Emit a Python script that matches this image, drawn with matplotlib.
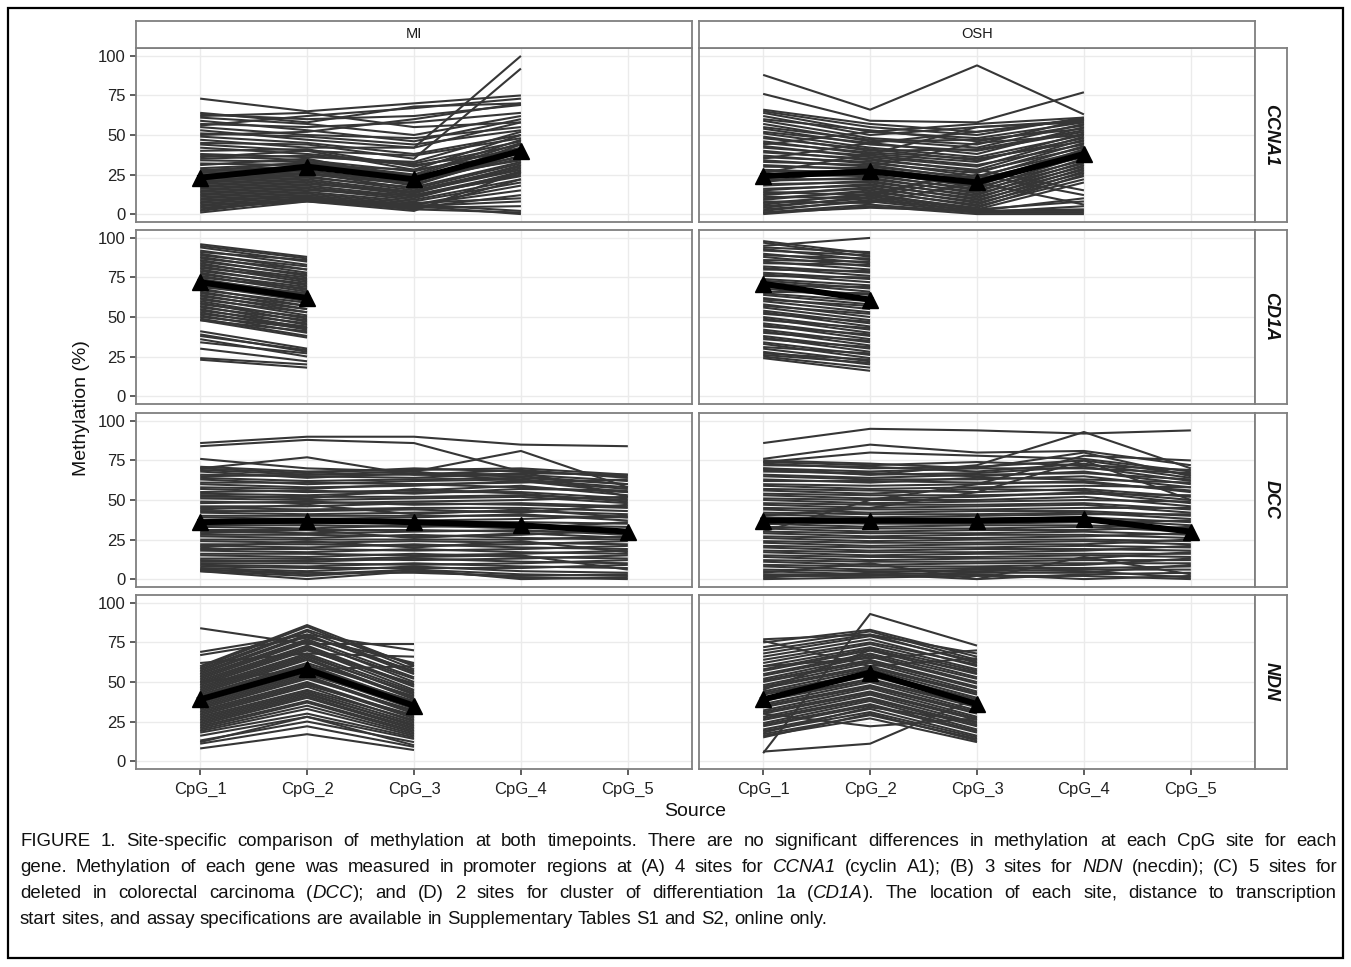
import matplotlib
matplotlib.use("Agg")
import matplotlib.pyplot as plt
from matplotlib import font_manager as fm
from matplotlib.patches import Rectangle

# ---------------- data ----------------
sources = ["MI", "OSH"]
genes = ["CCNA1", "CD1A", "DCC", "NDN"]
sites = ["CpG_1", "CpG_2", "CpG_3", "CpG_4", "CpG_5"]
y_ticks = [0, 25, 50, 75, 100]

ccna1_mi = [
    [73, 65, 70, 75], [64, 58, 68, 70], [63, 60, 62, 69], [61, 57, 50, 62],
    [59, 53, 46, 60], [57, 55, 58, 64], [55, 50, 48, 55], [53, 47, 42, 58],
    [51, 49, 44, 53], [49, 45, 38, 50], [47, 42, 42, 100], [45, 44, 35, 92],
    [44, 40, 37, 48], [42, 38, 32, 46], [40, 41, 30, 44], [38, 36, 33, 52],
    [37, 34, 27, 42], [35, 37, 31, 40], [34, 33, 25, 47], [32, 31, 28, 38],
    [31, 35, 22, 41], [29, 32, 24, 36], [28, 30, 20, 44], [27, 29, 23, 34],
    [26, 28, 18, 39], [25, 27, 21, 35], [24, 26, 16, 32], [23, 25, 19, 37],
    [22, 24, 15, 30], [21, 23, 17, 33], [20, 22, 14, 28], [19, 21, 13, 31],
    [18, 20, 12, 26], [17, 19, 14, 29], [16, 18, 11, 25], [15, 17, 10, 27],
    [14, 16, 9, 22], [13, 15, 12, 24], [12, 14, 8, 20], [11, 13, 7, 10],
    [10, 12, 6, 18], [9, 11, 5, 8], [8, 11, 4, 5], [7, 10, 6, 2],
    [6, 9, 5, 0], [5, 9, 3, 1], [4, 8, 4, 12], [3, 9, 6, 15],
    [2, 10, 3, 22], [1, 8, 2, 27], [20, 26, 20, 40], [27, 33, 24, 45],
    [36, 40, 28, 50], [50, 52, 60, 70], [56, 62, 67, 73], [62, 64, 55, 58],
]
ccna1_osh = [
    [88, 66, 94, 63], [76, 59, 58, 77], [66, 57, 52, 60], [65, 55, 50, 61],
    [64, 52, 48, 58], [62, 50, 55, 59], [60, 53, 46, 56], [59, 48, 44, 60],
    [57, 46, 47, 54], [55, 47, 42, 57], [54, 44, 40, 52], [52, 45, 38, 55],
    [51, 42, 36, 50], [49, 40, 41, 53], [48, 41, 34, 48], [46, 38, 33, 51],
    [45, 39, 35, 46], [43, 36, 30, 49], [42, 37, 31, 44], [40, 34, 28, 47],
    [39, 35, 27, 42], [37, 32, 26, 45], [36, 33, 24, 40], [34, 30, 23, 43],
    [33, 31, 22, 38], [31, 28, 20, 41], [30, 29, 21, 36], [28, 26, 18, 39],
    [27, 27, 17, 34], [25, 24, 16, 37], [24, 25, 15, 32], [22, 22, 14, 35],
    [21, 23, 13, 30], [19, 20, 12, 33], [18, 21, 11, 28], [16, 18, 10, 31],
    [15, 19, 9, 26], [13, 16, 8, 29], [12, 17, 7, 24], [10, 14, 6, 27],
    [9, 15, 5, 22], [7, 12, 4, 25], [6, 13, 3, 20], [5, 10, 2, 10],
    [4, 11, 3, 8], [3, 8, 1, 5], [2, 9, 2, 3], [1, 6, 1, 1],
    [0, 5, 0, 0], [1, 4, 2, 2], [8, 7, 20, 6], [11, 10, 25, 12],
    [14, 12, 28, 15], [20, 30, 45, 50], [26, 38, 55, 58], [35, 45, 52, 60],
    [44, 52, 57, 61],
]
cd1a_mi = [
    [96, 88], [95, 87], [94, 85], [92, 83], [91, 86], [90, 80], [89, 82],
    [88, 78], [87, 80], [86, 76], [85, 77], [84, 73], [83, 75], [82, 72],
    [81, 74], [80, 70], [79, 71], [78, 67], [77, 69], [76, 66], [75, 68],
    [74, 64], [73, 65], [72, 61], [71, 63], [70, 60], [69, 62], [68, 57],
    [67, 59], [66, 55], [65, 57], [64, 53], [63, 55], [62, 51], [61, 53],
    [60, 49], [59, 47], [58, 50], [57, 45], [56, 48], [55, 43], [54, 46],
    [53, 42], [52, 44], [51, 40], [50, 43], [49, 38], [48, 41], [48, 37],
    [41, 30], [39, 28], [38, 29], [36, 25], [34, 27], [30, 22], [24, 20],
    [23, 18],
]
cd1a_osh = [
    [98, 90], [97, 88], [95, 100], [94, 91], [93, 86], [92, 89], [90, 84],
    [89, 87], [88, 82], [86, 85], [85, 80], [84, 83], [82, 78], [81, 76],
    [80, 79], [78, 74], [77, 72], [76, 75], [74, 70], [73, 68], [72, 66],
    [70, 69], [69, 64], [68, 62], [66, 65], [65, 60], [64, 58], [62, 55],
    [61, 57], [60, 53], [58, 50], [57, 52], [56, 48], [54, 46], [53, 44],
    [52, 47], [50, 42], [49, 40], [48, 43], [46, 38], [45, 36], [44, 39],
    [42, 34], [41, 32], [40, 35], [38, 30], [37, 28], [36, 31], [34, 26],
    [33, 24], [31, 27], [30, 22], [28, 20], [27, 23], [25, 18], [24, 16],
    [26, 21],
]
dcc_mi = [
    [86, 90, 90, 85, 84], [84, 88, 86, 68, 52], [65, 66, 68, 81, 58],
    [70, 77, 66, 65, 60], [76, 70, 68, 62, 55], [71, 68, 69, 70, 66],
    [70, 67, 70, 68, 65], [69, 66, 66, 69, 64], [68, 64, 67, 66, 62],
    [66, 65, 64, 67, 66], [64, 62, 63, 64, 60], [63, 60, 62, 63, 58],
    [61, 61, 60, 61, 63], [60, 58, 59, 62, 57], [58, 57, 60, 58, 55],
    [57, 55, 56, 59, 53], [55, 56, 54, 57, 56], [54, 53, 55, 55, 51],
    [52, 52, 52, 53, 50], [51, 50, 51, 52, 48], [49, 48, 49, 50, 52],
    [48, 49, 47, 48, 46], [46, 46, 48, 47, 45], [45, 44, 45, 45, 43],
    [43, 43, 44, 42, 47], [42, 41, 42, 43, 41], [40, 40, 40, 40, 39],
    [39, 38, 39, 41, 37], [37, 37, 37, 38, 40], [36, 35, 36, 36, 35],
    [34, 34, 33, 34, 33], [33, 32, 34, 32, 36], [31, 31, 31, 30, 30],
    [30, 29, 30, 31, 28], [28, 28, 27, 28, 31], [27, 26, 28, 26, 25],
    [25, 25, 25, 25, 27], [24, 23, 24, 23, 22], [22, 22, 21, 22, 24],
    [21, 20, 22, 20, 19], [19, 19, 18, 19, 21], [18, 17, 19, 17, 16],
    [16, 16, 15, 16, 18], [15, 14, 16, 14, 13], [13, 13, 12, 13, 15],
    [12, 11, 13, 11, 10], [10, 10, 9, 10, 12], [9, 8, 10, 8, 7],
    [8, 7, 7, 7, 9], [7, 5, 8, 5, 4], [6, 3, 6, 3, 2], [5, 0, 5, 1, 0],
    [5, 2, 6, 0, 1], [6, 4, 4, 2, 3], [44, 47, 41, 44, 39],
    [53, 51, 57, 54, 49], [29, 31, 26, 29, 26], [20, 24, 20, 24, 17],
    [11, 12, 14, 15, 6],
]
dcc_osh = [
    [86, 95, 94, 92, 94], [76, 85, 80, 81, 72], [74, 80, 78, 76, 68],
    [70, 66, 72, 93, 70], [75, 73, 70, 80, 65], [74, 72, 74, 72, 69],
    [73, 70, 71, 75, 66], [72, 71, 68, 73, 64], [70, 68, 70, 70, 67],
    [69, 66, 67, 71, 62], [68, 67, 65, 68, 60], [66, 64, 66, 67, 63],
    [65, 63, 63, 65, 58], [63, 61, 64, 63, 61], [62, 62, 61, 61, 56],
    [60, 59, 60, 62, 55], [59, 57, 58, 59, 58], [57, 56, 55, 57, 52],
    [56, 54, 57, 56, 50], [54, 53, 53, 54, 53], [53, 51, 52, 55, 48],
    [51, 50, 50, 52, 46], [50, 48, 49, 50, 49], [48, 47, 47, 48, 44],
    [47, 45, 46, 47, 42], [45, 44, 44, 45, 45], [44, 42, 43, 43, 40],
    [42, 41, 41, 42, 38], [41, 39, 40, 41, 41], [39, 38, 38, 39, 36],
    [38, 36, 37, 38, 34], [36, 35, 35, 36, 37], [35, 33, 34, 34, 32],
    [33, 32, 32, 33, 30], [32, 30, 31, 31, 33], [30, 29, 29, 30, 28],
    [29, 27, 28, 28, 26], [27, 26, 26, 27, 29], [26, 24, 25, 25, 24],
    [24, 23, 23, 24, 22], [23, 21, 22, 22, 25], [21, 20, 20, 21, 20],
    [20, 18, 19, 19, 18], [18, 17, 17, 18, 21], [17, 15, 16, 16, 16],
    [15, 14, 14, 15, 14], [14, 12, 13, 13, 17], [12, 11, 11, 12, 12],
    [11, 9, 10, 10, 10], [9, 8, 8, 9, 13], [8, 6, 7, 7, 8],
    [6, 5, 5, 6, 6], [5, 3, 4, 4, 9], [3, 3, 0, 3, 4], [2, 2, 3, 0, 2],
    [0, 1, 2, 2, 0], [1, 4, 6, 5, 1], [4, 10, 0, 14, 3],
    [30, 50, 60, 78, 75], [40, 45, 55, 75, 50],
]
ndn_mi = [
    [84, 74, 74], [69, 80, 70], [67, 78, 62], [60, 86, 60], [59, 85, 58],
    [58, 83, 61], [57, 82, 56], [56, 80, 55], [55, 79, 57], [54, 77, 53],
    [53, 76, 50], [52, 75, 52], [51, 73, 48], [50, 72, 47], [49, 71, 45],
    [48, 70, 49], [47, 68, 44], [46, 67, 42], [45, 66, 43], [44, 65, 40],
    [43, 64, 39], [42, 62, 41], [41, 61, 37], [40, 60, 36], [39, 59, 38],
    [38, 58, 34], [37, 56, 33], [36, 55, 35], [35, 54, 31], [34, 53, 30],
    [33, 52, 32], [32, 50, 28], [31, 49, 27], [30, 48, 29], [29, 47, 25],
    [28, 45, 26], [27, 44, 24], [26, 43, 22], [25, 42, 23], [24, 41, 21],
    [23, 40, 20], [22, 38, 19], [21, 37, 18], [20, 35, 17], [19, 33, 16],
    [18, 30, 15], [16, 28, 14], [13, 25, 12], [12, 28, 10], [8, 17, 7],
    [11, 22, 9], [62, 68, 66], [50, 58, 60],
]
ndn_osh = [
    [5, 93, 73], [6, 11, 40], [30, 22, 27], [77, 80, 68], [76, 60, 65],
    [75, 83, 66], [72, 82, 64], [70, 80, 62], [68, 79, 63], [66, 77, 60],
    [64, 75, 61], [62, 74, 58], [60, 72, 57], [58, 71, 55], [57, 70, 53],
    [55, 68, 52], [54, 67, 50], [52, 66, 49], [51, 64, 47], [50, 63, 46],
    [48, 62, 44], [47, 60, 43], [46, 59, 42], [44, 58, 40], [43, 56, 39],
    [42, 55, 38], [40, 54, 36], [39, 52, 35], [38, 51, 34], [36, 50, 32],
    [35, 48, 31], [34, 47, 30], [32, 46, 28], [31, 44, 27], [30, 43, 26],
    [28, 42, 24], [27, 40, 23], [26, 39, 22], [24, 38, 20], [23, 36, 19],
    [22, 35, 18], [20, 33, 16], [19, 31, 15], [17, 29, 14], [16, 27, 12],
    [15, 30, 13], [18, 34, 25], [60, 65, 70], [45, 70, 56],
]

mean_ccna1_mi = [23, 30, 22, 40]
mean_ccna1_osh = [24, 27, 20, 38]
mean_cd1a_mi = [72, 62]
mean_cd1a_osh = [71, 61]
mean_dcc_mi = [36, 37, 36, 34, 30]
mean_dcc_osh = [37, 37, 37, 38, 30]
mean_ndn_mi = [39, 58, 35]
mean_ndn_osh = [39, 56, 36]

caption_lines = [
    "FIGURE 1. Site-specific comparison of methylation at both timepoints. There are no significant differences in methylation at each CpG site for each",
    "gene. Methylation of each gene was measured in promoter regions at (A) 4 sites for *CCNA1* (cyclin A1); (B) 3 sites for *NDN* (necdin); (C) 5 sites for",
    "deleted in colorectal carcinoma (*DCC*); and (D) 2 sites for cluster of differentiation 1a (*CD1A*). The location of each site, distance to transcription",
    "start sites, and assay specifications are available in Supplementary Tables S1 and S2, online only.",
]

samples = {
    ("CCNA1", "MI"): ccna1_mi, ("CCNA1", "OSH"): ccna1_osh,
    ("CD1A", "MI"): cd1a_mi, ("CD1A", "OSH"): cd1a_osh,
    ("DCC", "MI"): dcc_mi, ("DCC", "OSH"): dcc_osh,
    ("NDN", "MI"): ndn_mi, ("NDN", "OSH"): ndn_osh,
}
means = {
    ("CCNA1", "MI"): mean_ccna1_mi, ("CCNA1", "OSH"): mean_ccna1_osh,
    ("CD1A", "MI"): mean_cd1a_mi, ("CD1A", "OSH"): mean_cd1a_osh,
    ("DCC", "MI"): mean_dcc_mi, ("DCC", "OSH"): mean_dcc_osh,
    ("NDN", "MI"): mean_ndn_mi, ("NDN", "OSH"): mean_ndn_osh,
}

# ---------------- layout ----------------
W, H = 1351, 967
fig = plt.figure(figsize=(W / 100, H / 100), dpi=100)
plt.rcParams["font.family"] = ["Liberation Sans", "DejaVu Sans"]

def fx(x):
    return x / W

def fy(y):
    return 1 - y / H

def px_axes(x0, y0, x1, y1):
    return fig.add_axes([x0 / W, 1 - y1 / H, (x1 - x0) / W, (y1 - y0) / H])

col_x = [(136, 692), (699, 1255)]
row_y = [(48, 222), (230, 404), (413, 587), (595, 769)]
strip_top = (21, 48)
strip_right = (1255, 1287)

edge_col = "#7f7f7f"
grid_col = "#ebebeb"
line_col = "#363636"
text_col = "#222222"

for ri, gene in enumerate(genes):
    for ci, src in enumerate(sources):
        x0, x1 = col_x[ci]
        y0, y1 = row_y[ri]
        ax = px_axes(x0, y0, x1, y1)
        ax.set_xlim(-0.6, len(sites) - 0.4)
        ax.set_ylim(-5, 105)
        for v in y_ticks:
            ax.axhline(v, color=grid_col, lw=1.0, zorder=0)
        for k in range(len(sites)):
            ax.axvline(k, color=grid_col, lw=1.0, zorder=0)
        for vals in samples[(gene, src)]:
            ax.plot(range(len(vals)), vals, color=line_col, lw=1.5,
                    solid_capstyle="butt", zorder=2)
        m = means[(gene, src)]
        ax.plot(range(len(m)), m, color="black", lw=4.3, marker="^",
                markersize=11, zorder=3, solid_joinstyle="miter")
        for s in ax.spines.values():
            s.set_color(edge_col)
            s.set_linewidth(1.3)
            s.set_zorder(5)
        ax.set_yticks(y_ticks)
        ax.set_xticks(range(len(sites)))
        ax.tick_params(length=4.5, width=1.1, color="#333333",
                       labelcolor=text_col, labelsize=12, pad=3)
        if ci == 0:
            ax.set_yticklabels([str(v) for v in y_ticks])
        else:
            ax.tick_params(axis="y", left=False, labelleft=False)
        if ri == len(genes) - 1:
            ax.set_xticklabels(sites)
            ax.tick_params(axis="x", pad=5)
        else:
            ax.tick_params(axis="x", bottom=False, labelbottom=False)

        # top strips
        if ri == 0:
            sa = px_axes(x0, strip_top[0], x1, strip_top[1])
            sa.set_xticks([]); sa.set_yticks([])
            for s in sa.spines.values():
                s.set_color(edge_col); s.set_linewidth(1.3)
            sa.text(0.5, 0.5, src, ha="center", va="center", fontsize=10.5,
                    color="#1a1a1a", transform=sa.transAxes)
    # right strips
    y0, y1 = row_y[ri]
    ra = px_axes(strip_right[0], y0, strip_right[1], y1)
    ra.set_xticks([]); ra.set_yticks([])
    for s in ra.spines.values():
        s.set_color(edge_col); s.set_linewidth(1.3)
    ra.text(0.5, 0.5, gene, ha="center", va="center", rotation=-90,
            fontsize=13, fontweight="bold", fontstyle="italic",
            color="#111111", transform=ra.transAxes)

fig.text(fx(82), fy(408), "Methylation (%)", rotation=90, ha="center",
         va="center", fontsize=14, color="#111111")
fig.text(fx(695), fy(811), "Source", ha="center", va="center",
         fontsize=14, color="#111111")

# outer border
fig.patches.append(Rectangle((fx(8), fy(958)), fx(1343) - fx(8), fy(8) - fy(958),
                             transform=fig.transFigure, fill=False,
                             edgecolor="black", lw=1.6))

# ---------------- caption (justified) ----------------
names = {f.name for f in fm.fontManager.ttflist}
cap_family = "Liberation Sans Narrow" if "Liberation Sans Narrow" in names else "Liberation Sans"
renderer = fig.canvas.get_renderer()

def parse(line):
    words = []
    for w in line.split(" "):
        parts = w.split("*")
        segs = [(p, i % 2 == 1) for i, p in enumerate(parts) if p]
        words.append(segs)
    return words

def measure(txt, size, italic):
    t = fig.text(0, 0, txt, fontsize=size, family=cap_family,
                 style="italic" if italic else "normal")
    w = t.get_window_extent(renderer).width
    t.remove()
    return w

# font size from the last (unjustified) line width: 20 -> ~757 px, a bit larger
base = 10.0
last = parse(caption_lines[-1])
sp_base = measure("a a", base, False) - measure("aa", base, False)
nat = sum(measure(t, base, it) for wd in last for t, it in wd) + sp_base * (len(last) - 1)
cap_size = base * (757 - 20) / nat
if cap_family != "Liberation Sans Narrow":
    cap_size *= 1.1
cap_size = min(cap_size, 14.0)
space_w = sp_base * cap_size / base

x_left, x_right = 20, 1337
baselines = [846, 872, 898, 924]
for li, line in enumerate(caption_lines):
    words = parse(line)
    widths = [[measure(t, cap_size, it) for t, it in wd] for wd in words]
    total = sum(sum(w) for w in widths)
    if li < len(caption_lines) - 1:
        gap = (x_right - x_left - total) / (len(words) - 1)
    else:
        gap = space_w
    x = x_left
    for wd, ws in zip(words, widths):
        for (t, it), w in zip(wd, ws):
            fig.text(fx(x), fy(baselines[li]), t, fontsize=cap_size,
                     family=cap_family, style="italic" if it else "normal",
                     ha="left", va="baseline", color="#111111")
            x += w
        x += gap

fig.savefig("out.png", dpi=100)
